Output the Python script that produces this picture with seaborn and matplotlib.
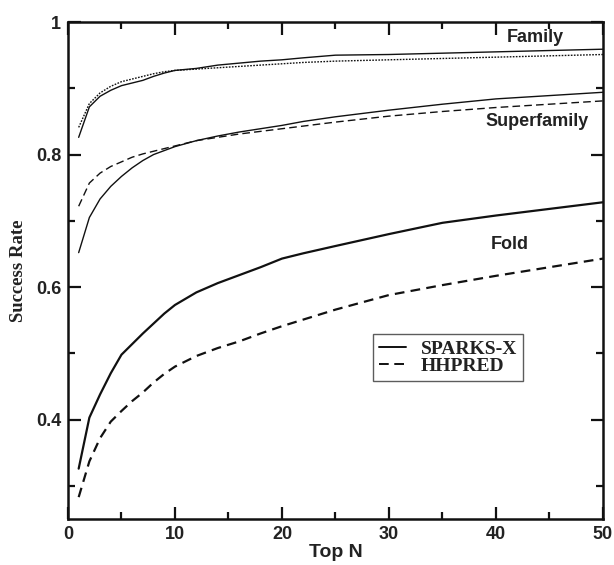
import numpy as np
import pandas as pd
import seaborn as sns
from matplotlib import pyplot as plt
from matplotlib.lines import Line2D
from matplotlib.ticker import MultipleLocator, FuncFormatter

# Top N values
top_n = [1, 2, 3, 4, 5, 6, 7, 8, 9, 10, 12, 14, 16, 18, 20, 22, 25, 30, 35, 40, 45, 50]

family_sparks = [0.826, 0.872, 0.888, 0.897, 0.904, 0.908, 0.912, 0.918, 0.923, 0.927, 0.930,
                 0.935, 0.938, 0.941, 0.943, 0.946, 0.950, 0.951, 0.953, 0.955, 0.957, 0.959]
family_hhpred = [0.841, 0.877, 0.893, 0.903, 0.910, 0.914, 0.918, 0.922, 0.925, 0.927, 0.929,
                 0.931, 0.933, 0.935, 0.937, 0.939, 0.941, 0.943, 0.945, 0.947, 0.949, 0.951]
super_sparks = [0.652, 0.705, 0.733, 0.752, 0.767, 0.780, 0.791, 0.800, 0.806, 0.812, 0.821,
                0.828, 0.834, 0.839, 0.844, 0.850, 0.857, 0.867, 0.876, 0.884, 0.889, 0.894]
super_hhpred = [0.722, 0.757, 0.772, 0.782, 0.789, 0.796, 0.801, 0.805, 0.809, 0.813, 0.821,
                0.826, 0.831, 0.835, 0.839, 0.843, 0.849, 0.858, 0.865, 0.871, 0.876, 0.881]
fold_sparks = [0.326, 0.403, 0.438, 0.470, 0.498, 0.514, 0.530, 0.545, 0.560, 0.573, 0.592,
               0.606, 0.618, 0.630, 0.643, 0.651, 0.662, 0.680, 0.697, 0.708, 0.718, 0.728]
fold_hhpred = [0.283, 0.337, 0.372, 0.397, 0.413, 0.428, 0.441, 0.456, 0.469, 0.480, 0.496,
               0.508, 0.518, 0.530, 0.541, 0.551, 0.566, 0.588, 0.603, 0.617, 0.630, 0.643]

sns.set_style("ticks")
plt.rcParams["font.family"] = ["Liberation Sans", "DejaVu Sans"]
plt.rcParams["lines.scale_dashes"] = False

fig = plt.figure(figsize=(6.14, 5.65), dpi=100)
ax = fig.add_axes([0.1107, 0.0814, 0.8713, 0.8796])

ink = "#111111"
series = [
    (family_sparks, 1.0, "-"),
    (family_hhpred, 1.0, (0, (1.2, 1.0))),
    (super_sparks, 1.0, "-"),
    (super_hhpred, 1.0, (0, (5.5, 3.0))),
    (fold_sparks, 1.6, "-"),
    (fold_hhpred, 1.6, (0, (7.0, 4.5))),
]
for vals, lw, ls in series:
    sns.lineplot(x=top_n, y=vals, ax=ax, color=ink, lw=lw, linestyle=ls)

ax.set_xlim(0, 50)
ax.set_ylim(0.25, 1.0)
ax.xaxis.set_major_locator(MultipleLocator(10))
ax.xaxis.set_minor_locator(MultipleLocator(5))
ax.yaxis.set_major_locator(MultipleLocator(0.2))
ax.yaxis.set_minor_locator(MultipleLocator(0.1))
ax.yaxis.set_major_formatter(FuncFormatter(lambda v, p: "1" if abs(v - 1) < 1e-9 else f"{v:.1f}"))

ax.tick_params(which="both", direction="in", top=True, right=True, width=1.6, color=ink)
ax.tick_params(which="major", length=9, pad=5, labelsize=13, labelcolor="#222222")
ax.tick_params(which="minor", length=5)
for lab in ax.get_xticklabels() + ax.get_yticklabels():
    lab.set_fontweight("bold")
for sp in ax.spines.values():
    sp.set_linewidth(1.8)
    sp.set_color(ink)

ax.set_xlabel("Top N", fontsize=14, fontweight="bold", color="#222222", labelpad=1)
ax.set_ylabel("Success Rate", fontsize=13.5, fontweight="bold", color="#222222",
              family=["Liberation Serif", "DejaVu Serif"], labelpad=6)

label_kw = dict(fontsize=13, fontweight="bold", color="#222222", ha="center", va="center")
ax.text(43.7, 0.977, "Family", **label_kw)
ax.text(43.8, 0.850, "Superfamily", **label_kw)
ax.text(41.3, 0.665, "Fold", **label_kw)

handles = [Line2D([], [], color=ink, lw=1.4, linestyle="-"),
           Line2D([], [], color=ink, lw=1.4, linestyle=(0, (7.0, 4.0)))]
leg = ax.legend(handles, ["SPARKS-X", "HHPRED"], loc="upper left",
                bbox_to_anchor=(0.570, 0.372), frameon=True, fancybox=False,
                prop={"family": ["Liberation Serif", "DejaVu Serif"], "weight": "bold", "size": 14},
                handlelength=1.4, handletextpad=0.75, labelspacing=0.0, borderpad=0.3,
                borderaxespad=0)
leg.get_frame().set_edgecolor("#333333")
leg.get_frame().set_linewidth(1.0)
for t in leg.get_texts():
    t.set_color("#222222")

fig.savefig("out.png", dpi=100)
